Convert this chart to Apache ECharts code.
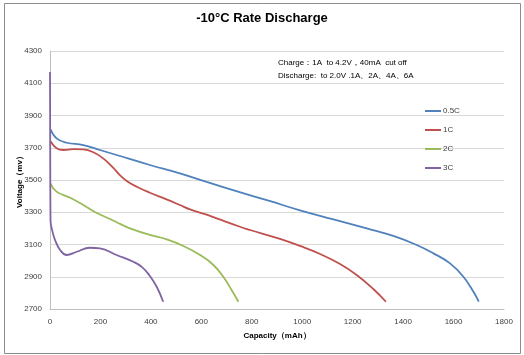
<!DOCTYPE html>
<html>
<head>
<meta charset="utf-8">
<script src="https://cdn.jsdelivr.net/npm/echarts@6/dist/echarts.min.js"></script>
<style>html,body{margin:0;padding:0;background:#fff}#c{width:524px;height:355px}</style>
</head>
<body>
<div id="c"></div>
<script>
const seriesNames = ['0.5C', '1C', '2C', '3C'];
const cap05 = [2, 26, 66, 132, 198, 264, 396, 515, 621, 752, 870, 991, 1124, 1256, 1361, 1454, 1520, 1586, 1639, 1679, 1700];
const v05   = [3815, 3758, 3731, 3717, 3686, 3655, 3593, 3541, 3488, 3425, 3370, 3312, 3256, 3200, 3153, 3097, 3045, 2983, 2900, 2807, 2745];
const cap1  = [2, 26, 53, 92, 132, 172, 211, 251, 277, 304, 344, 396, 462, 515, 555, 621, 661, 753, 793, 912, 991, 1071, 1150, 1216, 1282, 1332];
const v1    = [3740, 3697, 3686, 3692, 3690, 3672, 3634, 3575, 3530, 3494, 3458, 3421, 3380, 3345, 3318, 3285, 3262, 3210, 3190, 3135, 3091, 3041, 2979, 2911, 2824, 2745];
const cap2  = [2, 26, 80, 132, 180, 238, 280, 317, 396, 463, 529, 595, 648, 687, 720, 747];
const v2    = [3478, 3428, 3390, 3345, 3300, 3258, 3226, 3200, 3159, 3132, 3091, 3035, 2973, 2900, 2818, 2745];
const cap3  = [0, 2, 10, 20, 40, 66, 106, 158, 198, 264, 330, 365, 396, 423, 449];
const v3    = [4170, 3250, 3180, 3128, 3066, 3035, 3055, 3080, 3076, 3035, 2993, 2960, 2905, 2838, 2745];
const colors = ['#4F81BD', '#C0504D', '#9BBB59', '#8064A2'];
const xTicks = {min: 0, max: 1800, step: 200};
const yTicks = {min: 2700, max: 4300, step: 200};
const titleText = '-10°C Rate Discharge';
const noteLines = ['Charge：1A  to 4.2V，40mA  cut off', 'Discharge:  to 2.0V .1A、2A、4A、6A'];
const xName = 'Capacity（mAh）';
const yName = 'Voltage（mv）';

const caps = [cap05, cap1, cap2, cap3];
const vols = [v05, v1, v2, v3];
const font = 'Liberation Sans, Arial, sans-serif';

const chart = echarts.init(document.getElementById('c'), null, {renderer: 'canvas'});
chart.setOption({
  animation: false,
  backgroundColor: '#fff',
  title: {
    text: titleText, left: 'center', top: 7,
    textStyle: {fontFamily: font, fontSize: 13, fontWeight: 'bold', color: '#000'}
  },
  graphic: [
    {type: 'rect', left: 2, top: 1, shape: {width: 516, height: 350}, style: {fill: 'none', stroke: '#8c8c8c', lineWidth: 1}},
    {type: 'text', left: 278, top: 59, style: {text: noteLines[0], font: '8px ' + font, fill: '#000'}},
    {type: 'text', left: 278, top: 72, style: {text: noteLines[1], font: '8px ' + font, fill: '#000'}}
  ],
  legend: {
    orient: 'vertical', left: 420, top: 102, itemGap: 11,
    itemWidth: 16, itemHeight: 2, icon: 'rect',
    textStyle: {fontFamily: font, fontSize: 8, color: '#404040', padding: [0, 0, 0, -3]},
    data: seriesNames
  },
  grid: {left: 50, right: 20, top: 51, bottom: 46, outerBoundsMode: 'none', containLabel: false},
  xAxis: {
    type: 'value', min: xTicks.min, max: xTicks.max, interval: xTicks.step,
    name: xName, nameLocation: 'middle', nameGap: 23, nameMoveOverlap: false,
    nameTextStyle: {fontFamily: font, fontSize: 8, fontWeight: 'bold', color: '#000'},
    axisLine: {lineStyle: {color: '#bfbfbf'}},
    axisTick: {show: false},
    axisLabel: {fontFamily: font, fontSize: 8, color: '#404040', margin: 9, formatter: v => String(v)},
    splitLine: {show: false}
  },
  yAxis: {
    type: 'value', min: yTicks.min, max: yTicks.max, interval: yTicks.step,
    name: yName, nameLocation: 'middle', nameGap: 26, nameRotate: 90, nameMoveOverlap: false,
    nameTextStyle: {fontFamily: font, fontSize: 8, fontWeight: 'bold', color: '#000'},
    axisLine: {show: true, lineStyle: {color: '#bfbfbf'}},
    axisTick: {show: false},
    axisLabel: {fontFamily: font, fontSize: 8, color: '#404040', margin: 8, formatter: v => String(v)},
    splitLine: {lineStyle: {color: '#d9d9d9'}}
  },
  series: seriesNames.map((n, i) => ({
    name: n, type: 'line', smooth: 0.45, showSymbol: false,
    color: colors[i], lineStyle: {width: 1.8, color: colors[i]},
    data: caps[i].map((c, j) => [c, vols[i][j]])
  }))
});
</script>
</body>
</html>
